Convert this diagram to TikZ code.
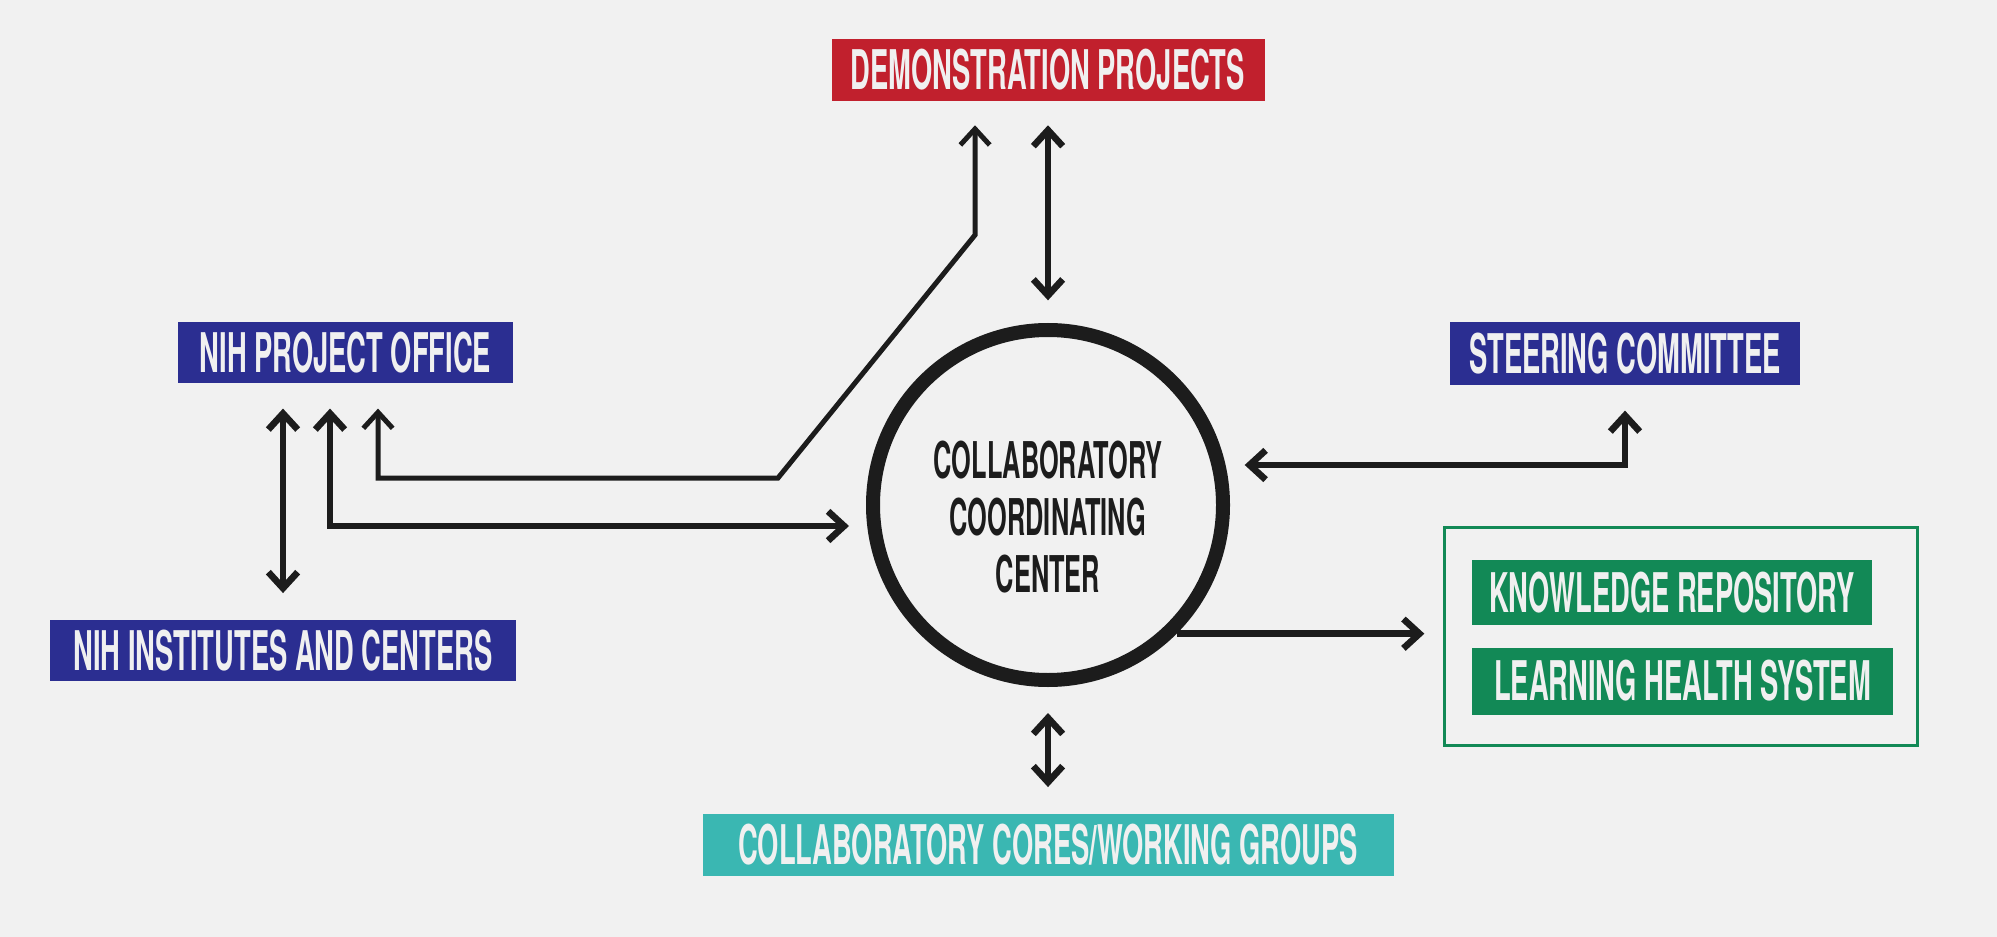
\documentclass[tikz,border=0pt]{standalone}
\usepackage{fontspec}
\setmainfont[FakeStretch=0.5]{TeX Gyre Heros}
\usetikzlibrary{arrows.meta,calc}

\begin{document}
\begin{tikzpicture}[x=0.75pt,y=0.75pt,yscale=-1,xscale=1,
  bar/.style={inner sep=0pt, minimum height=46.5pt, text={rgb,255:red,240;green,240;blue,240}, font=\fontsize{41}{45}\selectfont\bfseries},
  redbar/.style={bar, fill={rgb,255:red,193;green,32;blue,45}},
  bluebar/.style={bar, fill={rgb,255:red,43;green,46;blue,145}},
  greenbar/.style={bar, fill={rgb,255:red,18;green,137;blue,86}},
  tealbar/.style={bar, fill={rgb,255:red,58;green,183;blue,178}},
  ink/.style={draw={rgb,255:red,28;green,28;blue,28}},
  biarrow/.style={ink, line width=5pt, {Straight Barb[length=12pt,width=22pt]}-{Straight Barb[length=12pt,width=22pt]}},
  onearrow/.style={ink, line width=5pt, -{Straight Barb[length=12pt,width=22pt]}},
  thinlink/.style={line width=3.75pt}
]
%uncomment if require: \path (0,937); %set diagram left start at 0, and has height of 937
\path[use as bounding box, fill={rgb,255:red,241;green,241;blue,241}] (0,0) rectangle (1997,937);

% Circle
\node[circle, ink, line width=10.5pt, minimum size=262.5pt, inner sep=0pt] (ccc) at (1048,505) {};
% Text Node
\node[align=center, font=\fontsize{38}{43}\selectfont\bfseries, text={rgb,255:red,28;green,28;blue,28}] (ccctext) at (1048,517) {COLLABORATORY\\COORDINATING\\CENTER};

% Text Node
\node[redbar, minimum width=324.75pt] (demo) at (1048,70) {DEMONSTRATION PROJECTS};
% Text Node
\node[bluebar, minimum width=251.25pt, minimum height=45.75pt] (nihpo) at (345.5,352.5) {NIH PROJECT OFFICE};
% Text Node
\node[bluebar, minimum width=349.5pt, minimum height=45.75pt] (nihic) at (283,650.5) {NIH INSTITUTES AND CENTERS};
% Text Node
\node[bluebar, minimum width=262.5pt, minimum height=47.25pt] (steer) at (1625,353.5) {STEERING COMMITTEE};
% Text Node
\node[tealbar, minimum width=518.25pt] (cores) at (1048,845) {COLLABORATORY CORES/WORKING GROUPS};

% Rectangle
\node[draw={rgb,255:red,18;green,137;blue,86}, line width=2.25pt, minimum width=354.75pt, minimum height=163.5pt, inner sep=0pt] (kbox) at (1681,636.5) {};
% Text Node
\node[greenbar, minimum width=300pt, minimum height=48.75pt] (know) at (1672,592.5) {KNOWLEDGE REPOSITORY};
% Text Node
\node[greenbar, minimum width=315.75pt, minimum height=50.25pt] (learn) at (1682.5,681) {LEARNING HEALTH SYSTEM};

\coordinate (bendlow) at (778,478);
\coordinate (bendhigh) at (975,235);

%Straight Lines
\draw[biarrow, shorten <=18pt, shorten >=17pt] (demo) -- (ccc);
%Straight Lines
\draw[biarrow, shorten <=19.5pt, shorten >=20pt] (ccc) -- (cores);
%Straight Lines
\draw[biarrow, shorten <=19pt, shorten >=20pt] (nihpo.south -| nihic.north) -- (nihic.north);
%Straight Lines
\draw[biarrow, thinlink, shorten <=19pt, shorten >=18pt] ($(nihpo.south)+(32.5,0)$) |- (bendlow) -- (bendhigh) -- (bendhigh |- demo.south);
%Straight Lines
\draw[biarrow, shorten <=19pt, shorten >=12.75pt] ($(nihpo.south)+(-15.5,0)$) |- ($(ccc.west)+(0,21)$);
%Straight Lines
\draw[biarrow, shorten <=11pt, shorten >=19pt] ($(ccc.east)+(0,-40)$) -| (steer.south);
%Straight Lines
\draw[onearrow, shorten >=14pt] (ccc.-45) -- (ccc.-45 -| kbox.west);

\end{tikzpicture}
\end{document}
